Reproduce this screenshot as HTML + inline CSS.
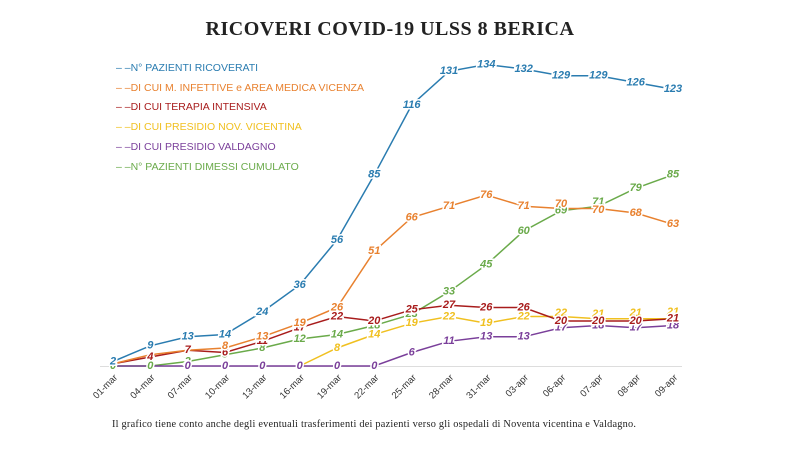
<!DOCTYPE html>
<html><head><meta charset="utf-8"><style>
body{margin:0;background:#fff;width:788px;height:459px;overflow:hidden}
svg{display:block}
.l{font-family:"Liberation Sans",sans-serif;font-size:10.5px}
.v{font-family:"Liberation Sans",sans-serif;font-size:11px;font-style:italic;font-weight:bold;text-anchor:middle;stroke:#fff;stroke-width:3px;paint-order:stroke;dominant-baseline:middle}
.x{font-family:"Liberation Sans",sans-serif;font-size:9.5px;fill:#333;text-anchor:end}
polyline{fill:none;stroke-width:1.5}
</style></head><body>
<svg width="788" height="459" viewBox="0 0 788 459">
<text x="390" y="35" text-anchor="middle" font-family="Liberation Serif,serif" font-size="20" font-weight="bold" fill="#222" letter-spacing="0.5">RICOVERI COVID-19 ULSS 8 BERICA</text>
<g class="l">
<text x="116" y="71" fill="#2a7cb0">– –N° PAZIENTI RICOVERATI</text>
<text x="116" y="91" fill="#e8812f">– –DI CUI M. INFETTIVE e AREA MEDICA VICENZA</text>
<text x="116" y="110" fill="#a81c1c">– –DI CUI TERAPIA INTENSIVA</text>
<text x="116" y="130" fill="#f0c020">– –DI CUI PRESIDIO NOV. VICENTINA</text>
<text x="116" y="150" fill="#7a3f9a">– –DI CUI PRESIDIO VALDAGNO</text>
<text x="116" y="170" fill="#6aaa4a">– –N° PAZIENTI DIMESSI CUMULATO</text>
</g>
<line x1="100" y1="366.5" x2="682" y2="366.5" stroke="#ddd" stroke-width="1"/>
<polyline stroke="#6aaa4a" points="113,366 150.3,366 187.7,361.5 225,354.8 262.3,348 299.7,339 337,334.5 374.3,325.5 411.7,314.3 449,291.8 486.3,264.8 523.7,231 561,210.8 598.3,206.3 635.7,188.3 673,174.8"/>
<polyline stroke="#7a3f9a" points="113,366 150.3,366 187.7,366 225,366 262.3,366 299.7,366 337,366 374.3,366 411.7,352.5 449,341.3 486.3,336.8 523.7,336.8 561,327.8 598.3,325.5 635.7,327.8 673,325.5"/>
<polyline stroke="#f0c020" points="299.7,366 337,348 374.3,334.5 411.7,323.3 449,316.5 486.3,323.3 523.7,316.5 561,316.5 598.3,318.8 635.7,318.8 673,318.8"/>
<polyline stroke="#a81c1c" points="113,363.8 150.3,357 187.7,350.3 225,352.5 262.3,341.3 299.7,327.8 337,316.5 374.3,321 411.7,309.8 449,305.3 486.3,307.5 523.7,307.5 561,321 598.3,321 635.7,321 673,318.8"/>
<polyline stroke="#e8812f" points="113,363.8 150.3,354.8 187.7,350.3 225,348 262.3,336.8 299.7,323.3 337,307.5 374.3,251.3 411.7,217.5 449,206.3 486.3,195 523.7,206.3 561,208.5 598.3,208.5 635.7,213 673,224.3"/>
<polyline stroke="#2a7cb0" points="113,361.5 150.3,345.8 187.7,336.8 225,334.5 262.3,312 299.7,285 337,240 374.3,174.8 411.7,105 449,71.3 486.3,64.5 523.7,69 561,75.8 598.3,75.8 635.7,82.5 673,89.3"/>
<g class="v" fill="#6aaa4a"><text x="113" y="366">0</text><text x="150.3" y="366">0</text><text x="187.7" y="361.5">2</text><text x="225" y="354.8">5</text><text x="262.3" y="348">8</text><text x="299.7" y="339">12</text><text x="337" y="334.5">14</text><text x="374.3" y="325.5">18</text><text x="411.7" y="314.3">23</text><text x="449" y="291.8">33</text><text x="486.3" y="264.8">45</text><text x="523.7" y="231">60</text><text x="561" y="210.8">69</text><text x="598.3" y="202">71</text><text x="635.7" y="188.3">79</text><text x="673" y="174.8">85</text></g>
<g class="v" fill="#7a3f9a"><text x="187.7" y="366">0</text><text x="225" y="366">0</text><text x="262.3" y="366">0</text><text x="299.7" y="366">0</text><text x="337" y="366">0</text><text x="374.3" y="366">0</text><text x="411.7" y="352.5">6</text><text x="449" y="341.3">11</text><text x="486.3" y="336.8">13</text><text x="523.7" y="336.8">13</text><text x="561" y="327.8">17</text><text x="598.3" y="325.5">18</text><text x="635.7" y="327.8">17</text><text x="673" y="325.5">18</text></g>
<g class="v" fill="#f0c020"><text x="337" y="348">8</text><text x="374.3" y="334.5">14</text><text x="411.7" y="323.3">19</text><text x="449" y="316.5">22</text><text x="486.3" y="323.3">19</text><text x="523.7" y="316.5">22</text><text x="561" y="313">22</text><text x="598.3" y="314">21</text><text x="635.7" y="313">21</text><text x="673" y="312">21</text></g>
<g class="v" fill="#a81c1c"><text x="150.3" y="357">4</text><text x="187.7" y="350.3">7</text><text x="225" y="352.5">6</text><text x="262.3" y="341.3">11</text><text x="299.7" y="327.8">17</text><text x="337" y="316.5">22</text><text x="374.3" y="321">20</text><text x="411.7" y="309.8">25</text><text x="449" y="305.3">27</text><text x="486.3" y="307.5">26</text><text x="523.7" y="307.5">26</text><text x="561" y="321">20</text><text x="598.3" y="321">20</text><text x="635.7" y="321">20</text><text x="673" y="318.8">21</text></g>
<g class="v" fill="#e8812f"><text x="225" y="346">8</text><text x="262.3" y="336.8">13</text><text x="299.7" y="323.3">19</text><text x="337" y="307.5">26</text><text x="374.3" y="251.3">51</text><text x="411.7" y="217.5">66</text><text x="449" y="206.3">71</text><text x="486.3" y="195">76</text><text x="523.7" y="206.3">71</text><text x="561" y="204">70</text><text x="598.3" y="210">70</text><text x="635.7" y="213">68</text><text x="673" y="224.3">63</text></g>
<g class="v" fill="#2a7cb0"><text x="113" y="361.5">2</text><text x="150.3" y="345.8">9</text><text x="187.7" y="336.8">13</text><text x="225" y="334.5">14</text><text x="262.3" y="312">24</text><text x="299.7" y="285">36</text><text x="337" y="240">56</text><text x="374.3" y="174.8">85</text><text x="411.7" y="105">116</text><text x="449" y="71.3">131</text><text x="486.3" y="64.5">134</text><text x="523.7" y="69">132</text><text x="561" y="75.8">129</text><text x="598.3" y="75.8">129</text><text x="635.7" y="82.5">126</text><text x="673" y="89.3">123</text></g>
<g class="x">
<text transform="translate(118,378) rotate(-45)">01-mar</text>
<text transform="translate(155.3,378) rotate(-45)">04-mar</text>
<text transform="translate(192.7,378) rotate(-45)">07-mar</text>
<text transform="translate(230,378) rotate(-45)">10-mar</text>
<text transform="translate(267.3,378) rotate(-45)">13-mar</text>
<text transform="translate(304.7,378) rotate(-45)">16-mar</text>
<text transform="translate(342,378) rotate(-45)">19-mar</text>
<text transform="translate(379.3,378) rotate(-45)">22-mar</text>
<text transform="translate(416.7,378) rotate(-45)">25-mar</text>
<text transform="translate(454,378) rotate(-45)">28-mar</text>
<text transform="translate(491.3,378) rotate(-45)">31-mar</text>
<text transform="translate(528.7,378) rotate(-45)">03-apr</text>
<text transform="translate(566,378) rotate(-45)">06-apr</text>
<text transform="translate(603.3,378) rotate(-45)">07-apr</text>
<text transform="translate(640.7,378) rotate(-45)">08-apr</text>
<text transform="translate(678,378) rotate(-45)">09-apr</text>
</g>
<text x="112" y="427" font-family="Liberation Serif,serif" font-size="10.3" fill="#222" textLength="524">Il grafico tiene conto anche degli eventuali trasferimenti dei pazienti verso gli ospedali di Noventa vicentina e Valdagno.</text>
</svg>
</body></html>
